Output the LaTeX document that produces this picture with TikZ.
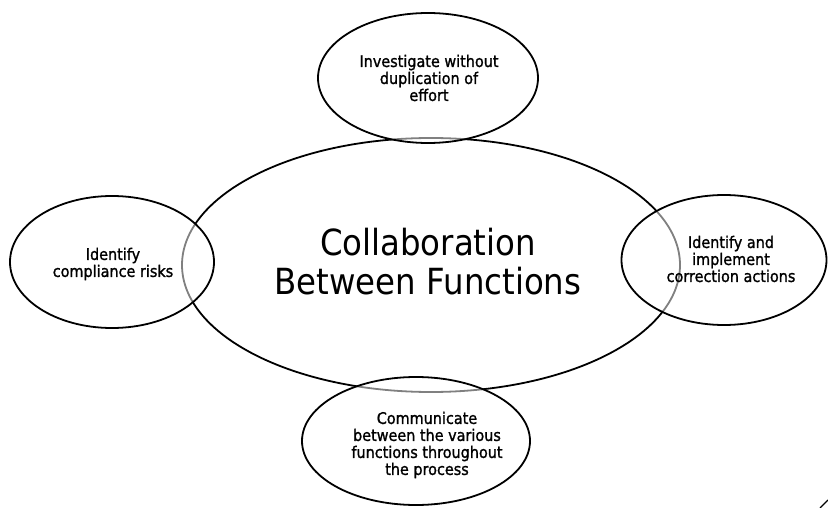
\documentclass[tikz,border=0pt]{standalone}
\usepackage{fontspec}
\setmainfont{DejaVu Sans}[FakeStretch=0.9]
\newfontfamily\labelfont{DejaVu Sans}[FakeStretch=0.9, FakeBold=1.2]
\usetikzlibrary{shapes.geometric}
\begin{document}
\begin{tikzpicture}[x=1pt,y=-1pt,
  oval/.style={ellipse, draw=black, line width=1.8pt, inner sep=0pt},
  sat/.style={oval, fill=white, fill opacity=0.5, draw opacity=1},
  smalltext/.style={font=\labelfont\fontsize{16}{17}\selectfont, align=center, inner sep=0pt},
  bigtext/.style={font=\fontsize{36}{39}\selectfont, align=center, inner sep=0pt}]
\useasboundingbox (0,0) rectangle (828,508);
% hub
\node[oval, minimum width=498pt, minimum height=254pt] (hub) at (431,265) {};
\node[bigtext] (hubtext) at (428,262) {Collaboration\\Between Functions};
% satellites
\node[sat, minimum width=220pt, minimum height=130pt] (top) at (428,78) {};
\node[sat, minimum width=204pt, minimum height=132pt] (left) at (112,262) {};
\node[sat, minimum width=205pt, minimum height=130pt] (right) at (724,260) {};
\node[sat, minimum width=228pt, minimum height=128pt] (bottom) at (416,441) {};
% texts
\node[smalltext] (toptext) at (429,78) {Investigate without\\duplication of\\effort};
\node[smalltext] (lefttext) at (113,264) {Identify\\compliance risks};
\node[smalltext] (righttext) at (731,259) {Identify and\\implement\\correction actions};
\node[smalltext] (bottomtext) at (427,445) {Communicate\\between the various\\functions throughout\\the process};
% corner stroke
\coordinate (c1) at (820,508);
\coordinate (c2) at (828,500);
\draw[line width=1.2pt] (c1) -- (c2);
\end{tikzpicture}
\end{document}
